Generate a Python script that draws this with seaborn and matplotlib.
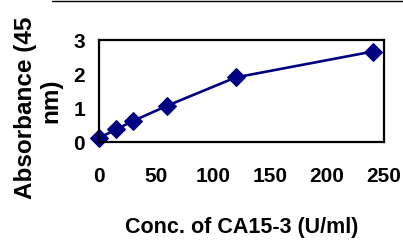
import numpy as np
import pandas as pd
import matplotlib
matplotlib.use("Agg")
import matplotlib.pyplot as plt
import seaborn as sns
from matplotlib.lines import Line2D

# values
conc = [0, 15, 30, 60, 120, 240]
absorbance = [0.12, 0.37, 0.62, 1.07, 1.90, 2.66]
x_ticks = [0, 50, 100, 150, 200, 250]
y_ticks = [0, 1, 2, 3]

df = pd.DataFrame({"conc": conc, "abs": absorbance})

sns.set_style("white")
plt.rcParams['font.family'] = ['Liberation Sans', 'DejaVu Sans']
plt.rcParams['font.weight'] = 'bold'
plt.rcParams['text.color'] = 'black'
plt.rcParams['xtick.color'] = 'black'
plt.rcParams['ytick.color'] = 'black'

W, H = 403, 240
fig = plt.figure(figsize=(W / 100, H / 100), dpi=100)
ax = fig.add_axes([99 / W, 1 - 142 / H, 285 / W, 102 / H])

sns.lineplot(data=df, x="conc", y="abs", ax=ax, color="#000080", linewidth=1.9,
             marker="D", markersize=9, markeredgecolor="#000080", clip_on=False)

ax.set_xlim(0, 250)
ax.set_ylim(0, 3)
ax.set_xticks(x_ticks)
ax.set_yticks(y_ticks)
ax.tick_params(axis='x', direction='inout', length=14, width=1.5, pad=11,
               labelsize=15, colors='black')
ax.tick_params(axis='y', direction='inout', length=12, width=1.5, pad=4,
               labelsize=15, colors='black')
for lab in ax.get_xticklabels() + ax.get_yticklabels():
    lab.set_fontweight('bold')
for s in ax.spines.values():
    s.set_color('black')
    s.set_linewidth(1.6)
    s.set_visible(True)

ax.set_xlabel("")
ax.set_ylabel("")
fig.text(241.5 / W, 1 - 227 / H, "Conc. of CA15-3 (U/ml)", ha='center', va='center',
         fontsize=15.5, fontweight='bold')
fig.text(26 / W, 1 - 108 / H, "Absorbance (45", rotation=90, ha='center', va='center',
         fontsize=17.5, fontweight='bold')
fig.text(51 / W, 1 - 101 / H, "nm)", rotation=90, ha='center', va='center',
         fontsize=17.5, fontweight='bold')

# thin rule at the top of the picture
fig.add_artist(Line2D([52 / W, 1], [1 - 0.6 / H, 1 - 0.6 / H], color='black',
                      linewidth=1.0, transform=fig.transFigure))

fig.savefig("out.png", dpi=100)
